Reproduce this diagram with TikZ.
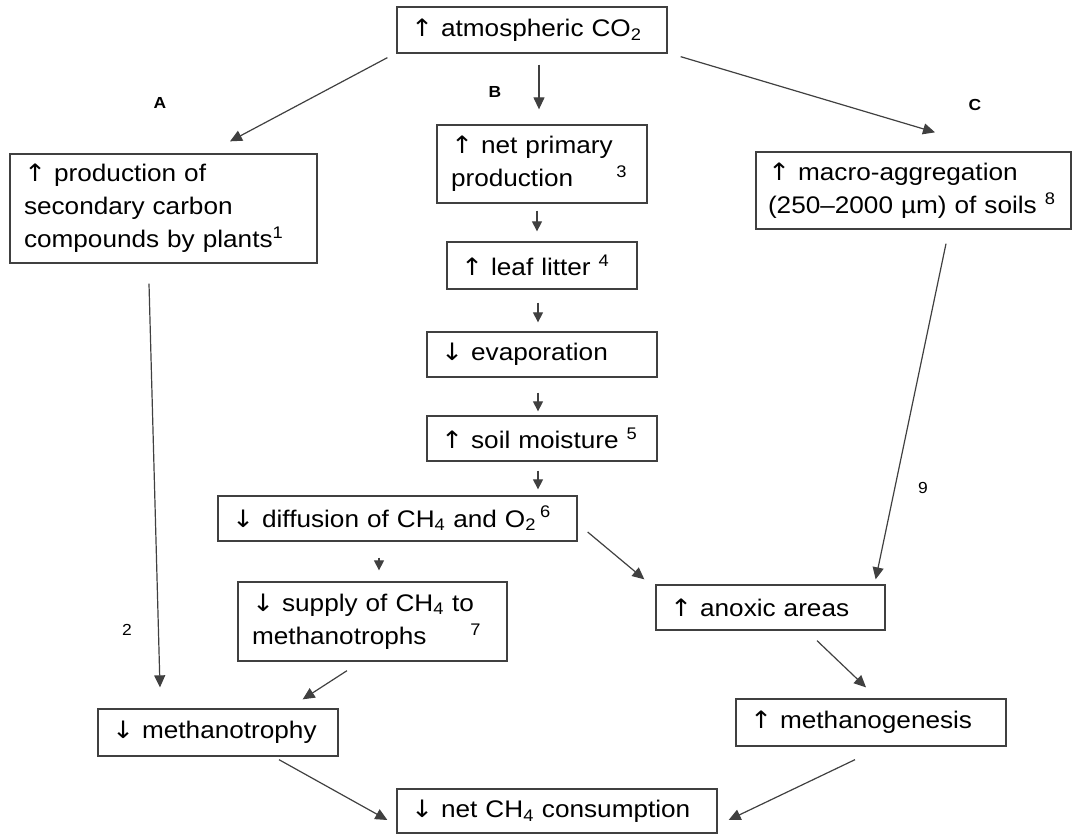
\documentclass[tikz,border=0pt]{standalone}
\usepackage{fontspec}
\setmainfont{Liberation Sans}[FakeStretch=1.09]
\newfontfamily\arrowfont{DejaVu Sans}[FakeStretch=1.1]
\newcommand\myup{{\arrowfont ↑}}
\newcommand\mydown{{\arrowfont ↓}}
\usetikzlibrary{arrows.meta,calc}
\begin{document}
\begin{tikzpicture}[x=1pt,y=-1pt,
  box/.style={draw=black!75,line width=1.3pt,inner xsep=14pt,inner ysep=0pt,align=left,
    font=\fontsize{24}{33}\selectfont,text=black,anchor=center},
  arr/.style={draw=black!75,line width=1.2pt,-{Triangle[length=12pt,width=11pt]}},
  sarr/.style={draw=black!75,line width=1.2pt,-{Triangle[length=10pt,width=10pt]}},
  lab/.style={font=\fontsize{16}{20}\selectfont\bfseries,text=black},
  num/.style={font=\fontsize{16}{20}\selectfont,text=black}]
\useasboundingbox (0,0) rectangle (1073,835);
% nodes
\node[box,text width=242pt,minimum height=46pt] (co2) at (532,30) {\myup\ atmospheric CO\textsubscript{2}};
\node[box,text width=279pt,minimum height=109pt] (prod) at (163.5,208.5) {\myup\ production of\\secondary carbon\\compounds by plants\textsuperscript{1}};
\node[box,text width=182pt,minimum height=78pt] (npp) at (542,164) {\myup\ net primary\\production\hskip0pt plus1fill\textsuperscript{3}\hspace*{6pt}};
\node[box,text width=162pt,minimum height=47pt] (leaf) at (542,265.5) {\myup\ leaf litter \textsuperscript{4}};
\node[box,text width=202pt,minimum height=45pt] (evap) at (542,354.5) {\mydown\ evaporation};
\node[box,text width=202pt,minimum height=45pt] (soil) at (542,438.5) {\myup\ soil moisture \textsuperscript{5}};
\node[box,text width=331pt,minimum height=45pt] (diff) at (397.5,518.5) {\mydown\ diffusion of CH\textsubscript{4} and O\textsubscript{2}\,\textsuperscript{6}};
\node[box,text width=241pt,minimum height=79pt] (supply) at (372.5,621.5) {\mydown\ supply of CH\textsubscript{4} to\\methanotrophs\hskip0pt plus1fill\textsuperscript{7}\hspace*{12pt}};
\node[box,inner xsep=12pt,text width=291pt,minimum height=77pt] (macro) at (913.5,190.5) {\myup\ macro-aggregation\\(250–2000 µm) of soils \textsuperscript{8}};
\node[box,text width=201pt,minimum height=45pt] (anoxic) at (770.5,607.5) {\myup\ anoxic areas};
\node[box,text width=242pt,minimum height=47pt] (mgen) at (871,722.5) {\myup\ methanogenesis};
\node[box,text width=212pt,minimum height=47pt] (mtroph) at (218,732.5) {\mydown\ methanotrophy};
\node[box,text width=292pt,minimum height=44pt] (net) at (557,811) {\mydown\ net CH\textsubscript{4} consumption};
% labels
\node[lab] (la) at (160,103) {A};
\node[lab] (lb) at (495,92) {B};
\node[lab] (lc) at (975,105) {C};
\node[num] (l2) at (127,630) {2};
\node[num] (l9) at (923,488) {9};
% connectors
\draw[arr] ($(co2.south west)+(-9,4)$) -- ($(prod.north)+(66.5,-12)$);
\draw[arr] ($(co2.south)+(7,11)$) -- ($(npp.north)+(-3,-15)$);
\draw[arr] ($(co2.south east)+(13,3)$) -- ($(macro.north)+(21.5,-19)$);
\draw[sarr] ($(npp.south)+(-5,7)$) -- ($(leaf.north)+(-5,-10)$);
\draw[sarr] ($(leaf.south)+(-4,13)$) -- ($(evap.north)+(-4,-9)$);
\draw[sarr] ($(evap.south)+(-4,15)$) -- ($(soil.north)+(-4,-4)$);
\draw[sarr] ($(soil.south)+(-4,9)$) -- ($(diff.north)+(140.5,-6)$);
\draw[sarr] ($(diff.south)+(-18.5,16)$) -- ($(supply.north)+(6.5,-11)$);
\draw[arr] ($(diff.east)+(10,13.5)$) -- ($(anoxic.north west)+(-11,-5)$);
\draw[arr] ($(macro.south)+(32.5,14)$) -- ($(anoxic.north east)+(-10,-5)$);
\draw[arr] ($(prod.south)+(-14.5,20)$) -- ($(mtroph.north)+(-58,-21)$);
\draw[arr] ($(supply.south)+(-25.5,9)$) -- ($(mtroph.north east)+(-36,-9)$);
\draw[arr] ($(anoxic.south)+(46.5,10)$) -- ($(mgen.north)+(-5,-11)$);
\draw[arr] ($(mtroph.south)+(61,3)$) -- ($(net.west)+(-9,9)$);
\draw[arr] ($(mgen.south)+(-16,13)$) -- ($(net.east)+(11,9)$);
\end{tikzpicture}
\end{document}
